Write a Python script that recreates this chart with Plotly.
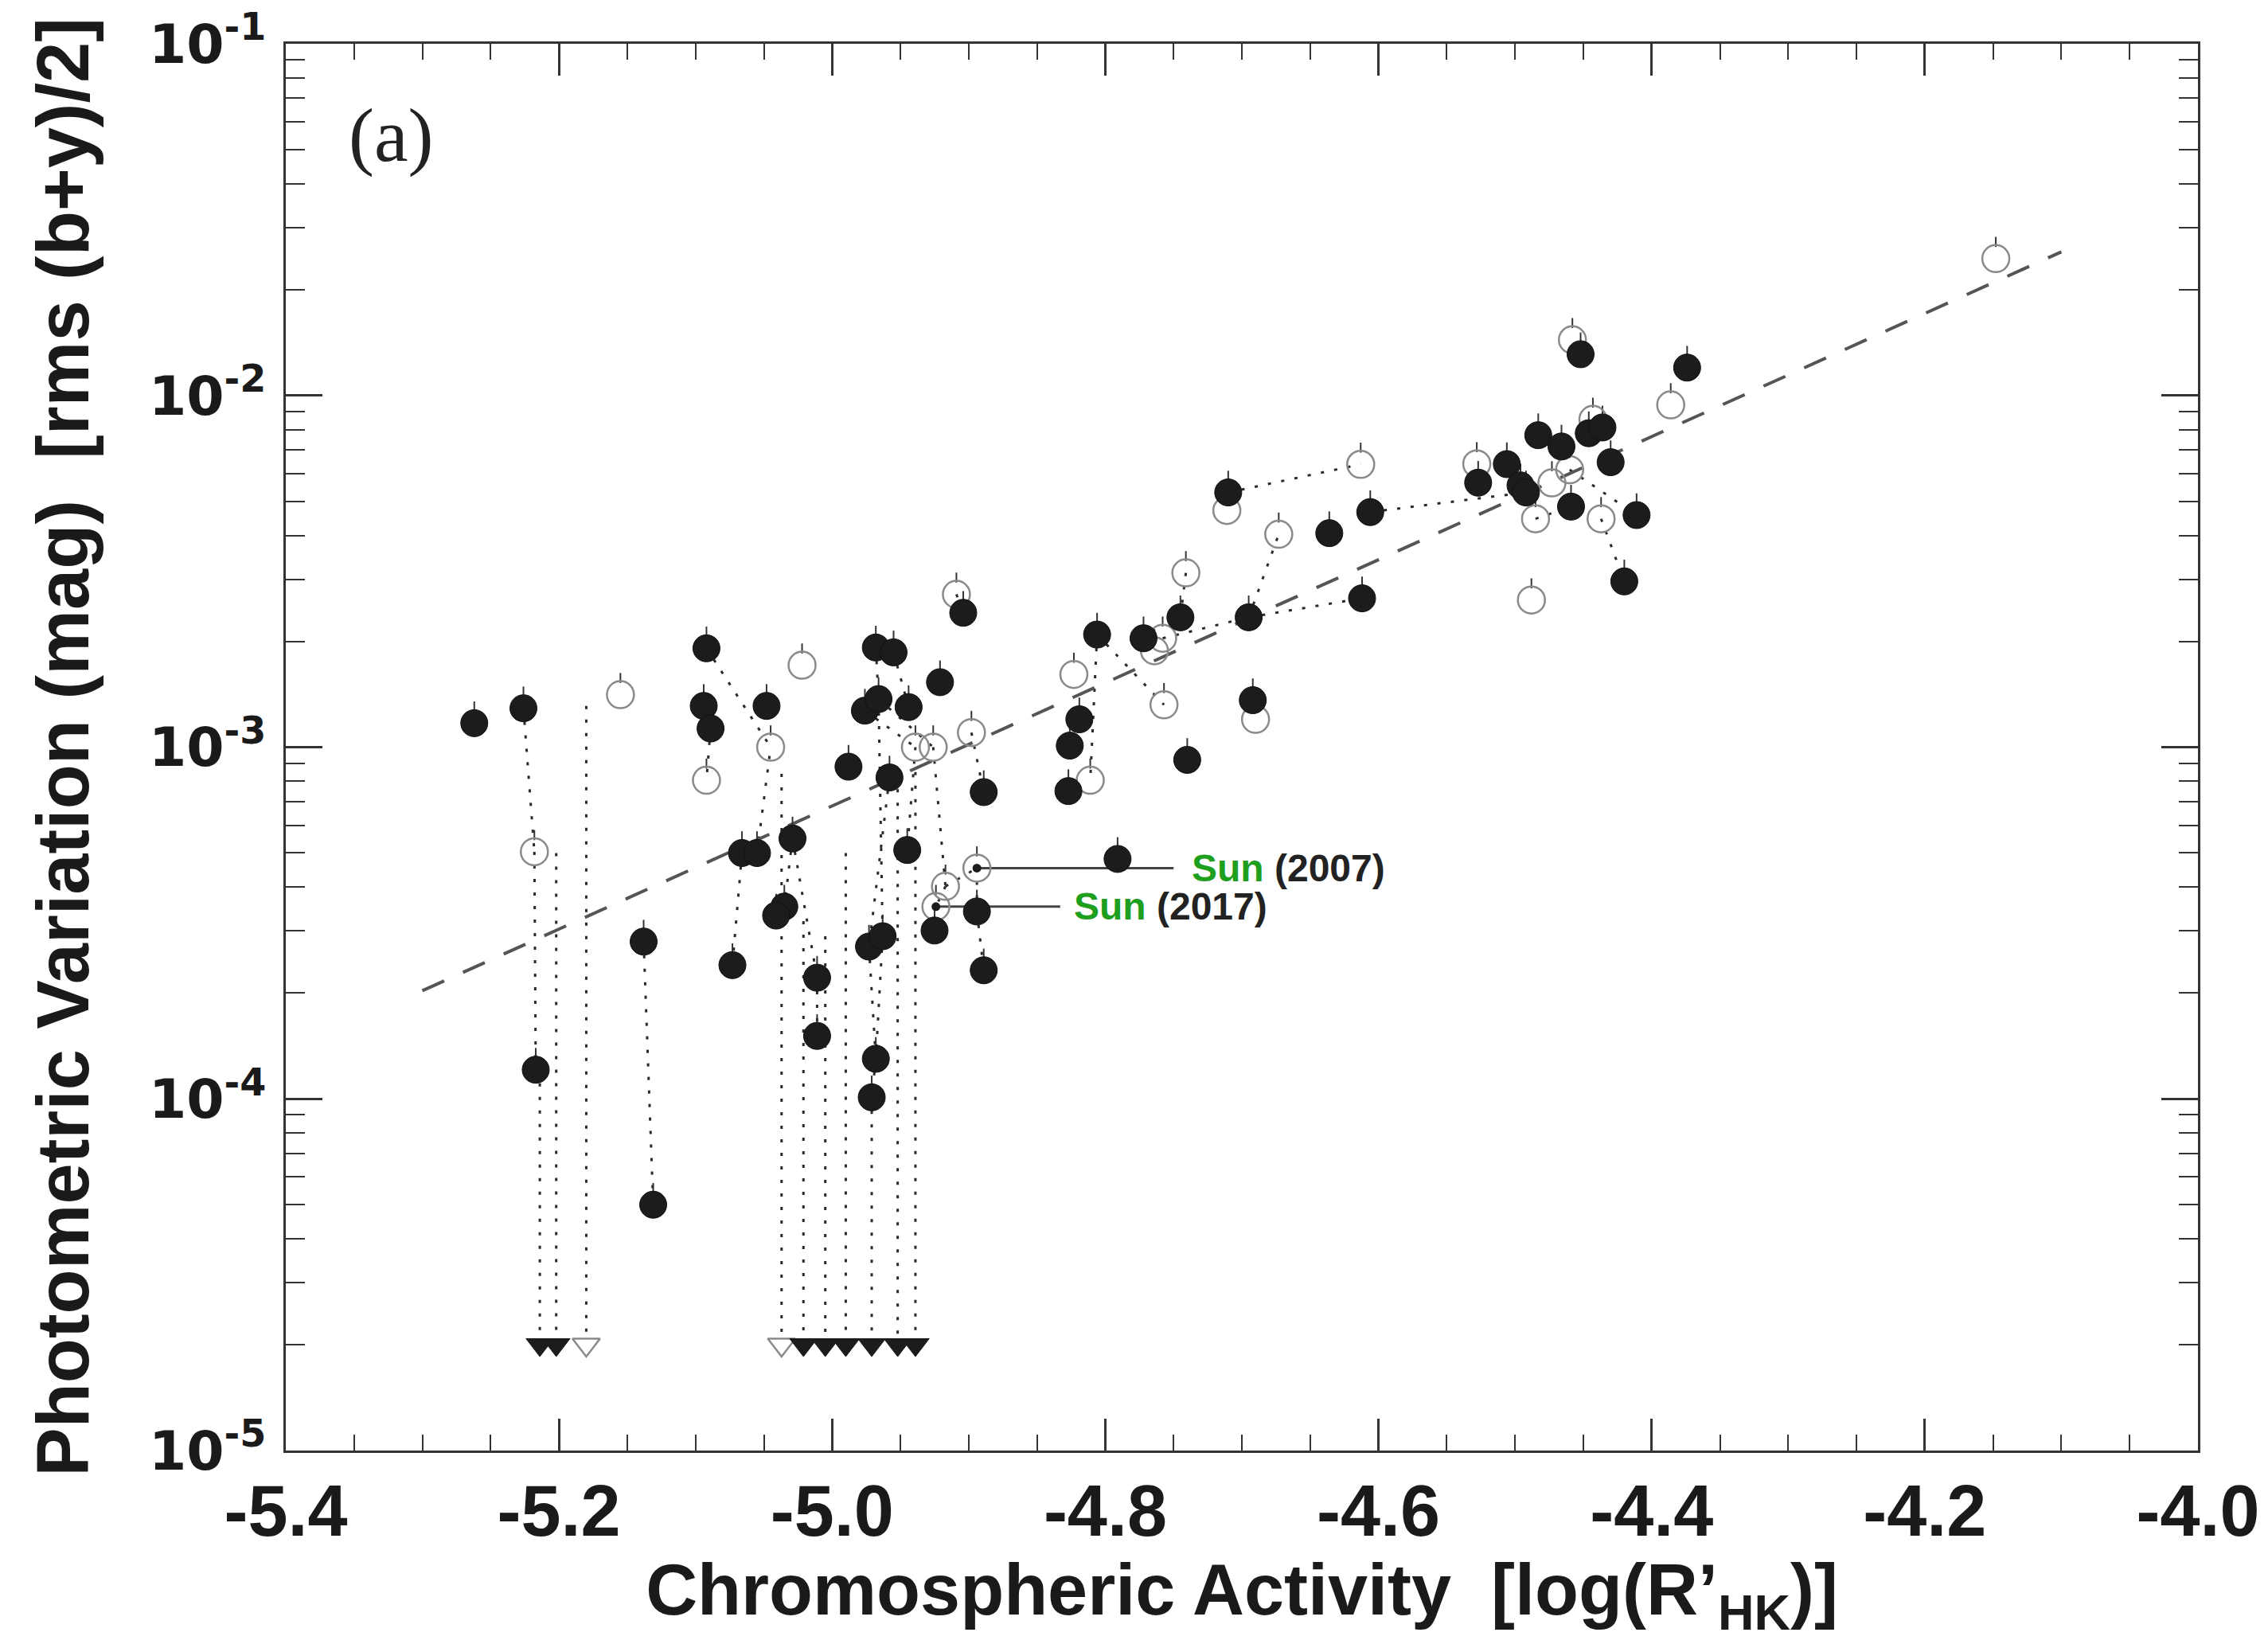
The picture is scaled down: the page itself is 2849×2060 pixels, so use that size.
import math
import plotly.graph_objects as go

# ---------------- data ----------------
# filled circles
filled_x = [-5.262, -5.226, -5.217, -5.138, -5.131, -5.092, -5.094, -5.089, -5.073, -5.066,
            -5.055, -5.048, -5.029, -5.035, -5.041, -5.011, -5.011, -4.988, -4.976, -4.966,
            -4.968, -4.955, -4.944, -4.921, -4.958, -4.945, -4.973, -4.963, -4.968, -4.971,
            -4.925, -4.894, -4.889, -4.889, -4.904, -4.791, -4.806, -4.819, -4.826, -4.827,
            -4.772, -4.745, -4.740, -4.695, -4.692, -4.612, -4.710, -4.636, -4.606, -4.527,
            -4.506, -4.496, -4.492, -4.483, -4.466, -4.446, -4.436, -4.430, -4.459, -4.411,
            -4.420, -4.452, -4.374]
filled_y = [1.17e-3, 1.29e-3, 1.21e-4, 2.80e-4, 5.0e-5, 1.91e-3, 1.31e-3, 1.13e-3, 2.40e-4, 5.0e-4,
            5.0e-4, 1.31e-3, 5.5e-4, 3.52e-4, 3.32e-4, 2.21e-4, 1.51e-4, 8.8e-4, 1.27e-3, 1.37e-3,
            1.92e-3, 1.86e-3, 1.30e-3, 1.53e-3, 8.2e-4, 5.1e-4, 2.71e-4, 2.90e-4, 1.30e-4, 1.01e-4,
            3.01e-4, 3.41e-4, 2.32e-4, 7.45e-4, 2.41e-3, 4.81e-4, 2.09e-3, 1.20e-3, 1.01e-3, 7.5e-4,
            2.04e-3, 2.34e-3, 9.2e-4, 2.34e-3, 1.36e-3, 2.65e-3, 5.30e-3, 4.06e-3, 4.66e-3, 5.65e-3,
            6.38e-3, 5.55e-3, 5.30e-3, 7.71e-3, 7.16e-3, 7.81e-3, 8.11e-3, 6.46e-3, 4.83e-3, 4.57e-3,
            2.96e-3, 1.31e-2, 1.20e-2]

# open circles
open_x = [-5.218, -5.155, -5.092, -5.045, -5.022, -4.939, -4.926, -4.898, -4.894, -4.917,
          -4.924, -4.909, -4.823, -4.811, -4.758, -4.764, -4.741, -4.757, -4.690, -4.711,
          -4.673, -4.613, -4.528, -4.473, -4.460, -4.443, -4.485, -4.437, -4.488, -4.458,
          -4.386, -4.148]
open_y = [5.04e-4, 1.41e-3, 8.05e-4, 1.00e-3, 1.71e-3, 1.00e-3, 1.00e-3, 1.10e-3, 4.53e-4, 4.02e-4,
          3.52e-4, 2.72e-3, 1.61e-3, 8.05e-4, 2.04e-3, 1.88e-3, 3.13e-3, 1.32e-3, 1.20e-3, 4.71e-3,
          4.03e-3, 6.37e-3, 6.39e-3, 5.64e-3, 6.15e-3, 8.55e-3, 4.46e-3, 4.46e-3, 2.62e-3, 1.44e-2,
          9.4e-3, 2.45e-2]

# upper limits (triangles) and the level where each limit's dotted line starts
limit_level = 2.0e-5
limit_filled_x = [-5.214, -5.202, -5.021, -5.005, -4.990, -4.971, -4.952, -4.939]
limit_filled_top = [1.21e-4, 5.0e-4, 3.2e-4, 2.9e-4, 5.0e-4, 1.01e-4, 7.6e-4, 8.5e-4]
limit_open_x = [-5.180, -5.037]
limit_open_top = [1.31e-3, 8.4e-4]

# dotted connections between measurements of the same star
links = [("F2", "O1"), ("O1", "F3"),
         ("F4", "F5"), ("F6", "O4"), ("F8", "O3"), ("F10", "F9"), ("F11", "O4"),
         ("F13", "F14"), ("F13", "F16"), ("F16", "F17"),
         ("F21", "F20"), ("F22", "F23"), ("F25", "F27"),
         ("F20", "F28"), ("F27", "F29"), ("F28", "F29"), ("F29", "F30"),
         ("O6", "F26"), ("F19", "O6"), ("F20", "O7"),
         ("O7", "O10"), ("O10", "O9"), ("O10", "O11"), ("O9", "F32"), ("F32", "F33"),
         ("O8", "F34"), ("O12", "F35"), ("F37", "O14"), ("F37", "O18"), ("O17", "F42"),
         ("O15", "F44"), ("F44", "O21"), ("F44", "F46"), ("F47", "O22"), ("F49", "F53"),
         ("O27", "F59"), ("O25", "F60"), ("O28", "F61")]

# fitted relation (dashed)
trend_x = [-5.30, -4.10]
trend_y = [2.03e-4, 2.56e-2]

# Sun
sun_labels = ["2007", "2017"]
sun_open_index = [8, 10]
sun_line_end_x = [-4.750, -4.833]
sun_text_x = [-4.738, -4.824]

x_tick_vals = [-5.4, -5.2, -5.0, -4.8, -4.6, -4.4, -4.2, -4.0]
x_tick_text = ["-5.4", "-5.2", "-5.0", "-4.8", "-4.6", "-4.4", "-4.2", "-4.0"]
y_tick_vals = [1e-5, 1e-4, 1e-3, 1e-2, 1e-1]
y_tick_text = ["10<sup>-5</sup>", "10<sup>-4</sup>", "10<sup>-3</sup>", "10<sup>-2</sup>", "10<sup>-1</sup>"]

# ---------------- geometry / style ----------------
W, H = 2849, 2060
M_L, M_R, M_T, M_B = 359, 88, 55, 238
PX_PER_DECADE = (H - M_T - M_B) / 4.0
MARKER = 34
TICK_OFFSET_DEX = (MARKER / 2 + 4) / PX_PER_DECADE  # small error tick sitting on top of a marker

# ---------------- build figure ----------------
pts = {}
for i, (x, y) in enumerate(zip(filled_x, filled_y)):
    pts[f"F{i+1}"] = (x, y)
for i, (x, y) in enumerate(zip(open_x, open_y)):
    pts[f"O{i+1}"] = (x, y)

lx, ly = [], []
for a, b in links:
    lx += [pts[a][0], pts[b][0], None]
    ly += [pts[a][1], pts[b][1], None]
for x, top in zip(limit_filled_x + limit_open_x, limit_filled_top + limit_open_top):
    lx += [x, x, None]
    ly += [top, limit_level, None]

fig = go.Figure()

fig.add_trace(go.Scatter(x=lx, y=ly, mode="lines", hoverinfo="skip",
                         line=dict(color="#2a2a2a", width=3, dash="4px,13px")))

fig.add_trace(go.Scatter(x=trend_x, y=trend_y, mode="lines", hoverinfo="skip",
                         line=dict(color="#555555", width=4, dash="30px,26px")))

# Sun label leader lines
sx, sy = [], []
for idx, xe in zip(sun_open_index, sun_line_end_x):
    sx += [open_x[idx], xe, None]
    sy += [open_y[idx], open_y[idx], None]
fig.add_trace(go.Scatter(x=sx, y=sy, mode="lines", hoverinfo="skip",
                         line=dict(color="#444444", width=3)))

# small error ticks on top of each circle
tick_x = open_x + filled_x
tick_y = [v * 10 ** TICK_OFFSET_DEX for v in open_y + filled_y]
fig.add_trace(go.Scatter(x=tick_x, y=tick_y, mode="markers", hoverinfo="skip",
                         marker=dict(symbol="line-ns", size=9,
                                     line=dict(color="#333333", width=2))))

fig.add_trace(go.Scatter(x=open_x, y=open_y, mode="markers",
                         marker=dict(symbol="circle", size=MARKER, color="rgba(0,0,0,0)",
                                     line=dict(color="#8a8a8a", width=2.5))))

fig.add_trace(go.Scatter(x=[open_x[i] for i in sun_open_index],
                         y=[open_y[i] for i in sun_open_index], mode="markers",
                         marker=dict(symbol="circle", size=11, color="#1c1c1c")))

fig.add_trace(go.Scatter(x=filled_x, y=filled_y, mode="markers",
                         marker=dict(symbol="circle", size=MARKER, color="#1c1c1c",
                                     line=dict(color="#111111", width=1))))

fig.add_trace(go.Scatter(x=limit_open_x, y=[limit_level] * len(limit_open_x), mode="markers",
                         marker=dict(symbol="triangle-down", size=30, color="white",
                                     line=dict(color="#8a8a8a", width=2.5))))
fig.add_trace(go.Scatter(x=limit_filled_x, y=[limit_level] * len(limit_filled_x), mode="markers",
                         marker=dict(symbol="triangle-down", size=30, color="#1c1c1c",
                                     line=dict(color="#1c1c1c", width=1))))

for lab, idx, tx in zip(sun_labels, sun_open_index, sun_text_x):
    fig.add_annotation(x=tx, y=math.log10(open_y[idx]), xref="x", yref="y",
                       text=f'<span style="color:#1ea01e">Sun</span> ({lab})',
                       showarrow=False, xanchor="left", yanchor="middle",
                       font=dict(family="Liberation Sans, Arial", size=48, color="#222222",
                                 weight="bold"))

fig.add_annotation(x=0.055, y=0.935, xref="paper", yref="paper", text="(a)",
                   showarrow=False, xanchor="center", yanchor="middle",
                   font=dict(family="Liberation Serif, Times New Roman", size=96, color="#222222"))

minor_y = [m * 10.0 ** e for e in range(-5, -1) for m in range(2, 10)]

fig.update_layout(
    width=W, height=H,
    margin=dict(l=M_L, r=M_R, t=M_T, b=M_B),
    paper_bgcolor="white", plot_bgcolor="white",
    showlegend=False,
    xaxis=dict(
        range=[-5.4, -4.0], tickmode="array", tickvals=x_tick_vals, ticktext=x_tick_text,
        automargin=False,
        ticks="inside", ticklen=40, tickwidth=2.5, tickcolor="#333333",
        minor=dict(tickmode="linear", tick0=-5.4, dtick=0.05, ticks="inside",
                   ticklen=20, tickwidth=2, tickcolor="#333333", showgrid=False),
        showline=True, linecolor="#333333", linewidth=3, mirror="allticks",
        showgrid=False, zeroline=False, ticklabelstandoff=-4,
        tickfont=dict(family="Liberation Sans, Arial", size=90, color="#1a1a1a", weight="bold"),
        title=dict(text="Chromospheric Activity\u00a0\u00a0[log(R\u2019<sub>HK</sub>)]",
                   font=dict(family="Liberation Sans, Arial", size=90, color="#1a1a1a",
                             weight="bold"), standoff=30),
    ),
    yaxis=dict(
        type="log", range=[-5, -1], tickmode="array", tickvals=y_tick_vals, ticktext=y_tick_text,
        automargin=False,
        ticks="inside", ticklen=46, tickwidth=2.5, tickcolor="#333333",
        minor=dict(tickmode="array", tickvals=minor_y, ticks="inside",
                   ticklen=24, tickwidth=2, tickcolor="#333333", showgrid=False),
        showline=True, linecolor="#333333", linewidth=3, mirror="allticks",
        showgrid=False, zeroline=False, ticklabelstandoff=8,
        tickfont=dict(family="DejaVu Sans", size=68, color="#1a1a1a", weight="bold"),
        title=dict(text="Photometric Variation (mag)\u00a0\u00a0[rms (b+y)/2]",
                   font=dict(family="Liberation Sans, Arial", size=92, color="#1a1a1a",
                             weight="bold"), standoff=45),
    ),
)

fig.write_html("out.html")
